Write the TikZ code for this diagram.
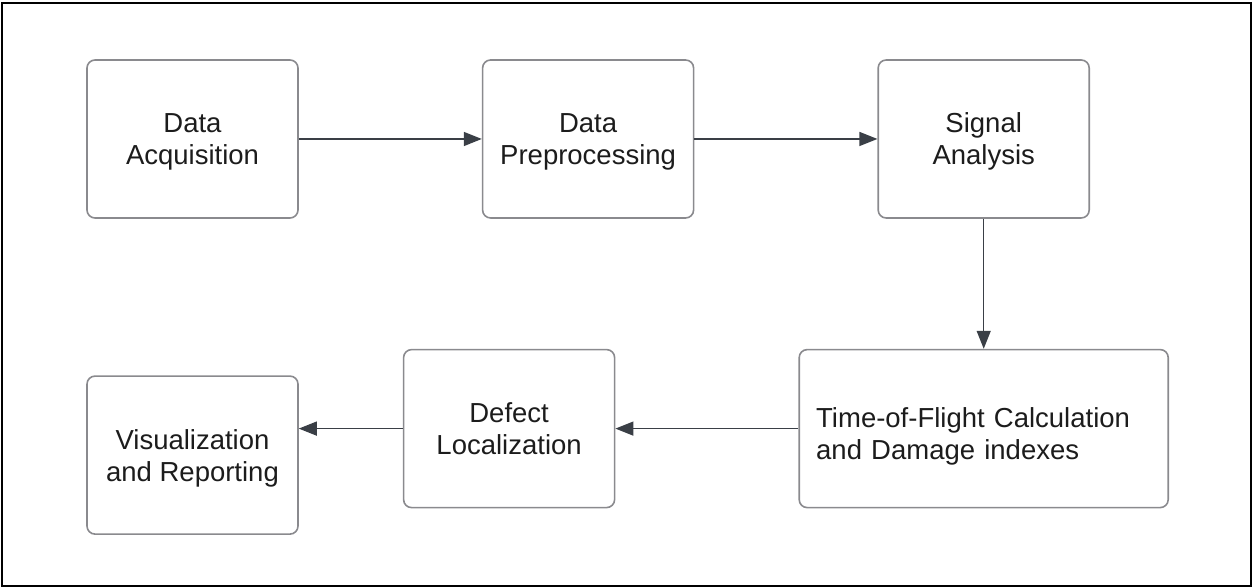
\documentclass[tikz,border=0pt]{standalone}
\usepackage{fontspec}
\setmainfont{Liberation Sans}
\usetikzlibrary{arrows.meta,positioning}
\definecolor{boxgray}{RGB}{138,138,142}
\definecolor{arrowgray}{RGB}{58,63,70}
\definecolor{textblack}{RGB}{28,28,28}

\begin{document}
\begin{tikzpicture}[x=1pt,y=1pt,
    block/.style={draw=boxgray,line width=1.6pt,rounded corners=8pt,
        minimum width=211pt,minimum height=158pt,align=center,text depth=-4pt,
        text=textblack,font=\fontsize{27.5}{32}\selectfont},
    flow/.style={draw=arrowgray,line width=1.4pt,
        -{Triangle[length=18pt,width=14pt]}}]
    \useasboundingbox (0,0) rectangle (1253,588);
    \draw[line width=2.5pt] (2,2) rectangle (1251,585);

    % top row
    \node [block] (acq) at (192.5,449) {Data\\Acquisition};
    \node [block,right=183pt of acq] (prep) {Data\\Preprocessing};
    \node [block,right=183pt of prep] (sig) {Signal\\Analysis};

    % bottom row
    \node [block,below=130pt of sig,align=left,text width=335pt,inner xsep=17pt,
        text depth=22pt] (tof) {Time-of-Flight Calculation\\and Damage indexes};
    \node [block,left=183pt of tof,text depth=-10pt] (loc) {Defect\\Localization};
    \node [block,left=104pt of loc,yshift=-26.5pt] (vis) {Visualization\\and Reporting};

    \draw [flow] (acq) -- (prep);
    \draw [flow] (prep) -- (sig);
    \draw [flow] (sig) -- (tof);
    \draw [flow] (tof) -- (loc);
    \draw [flow] (loc.west) -- (loc.west -| vis.east);
\end{tikzpicture}
\end{document}
